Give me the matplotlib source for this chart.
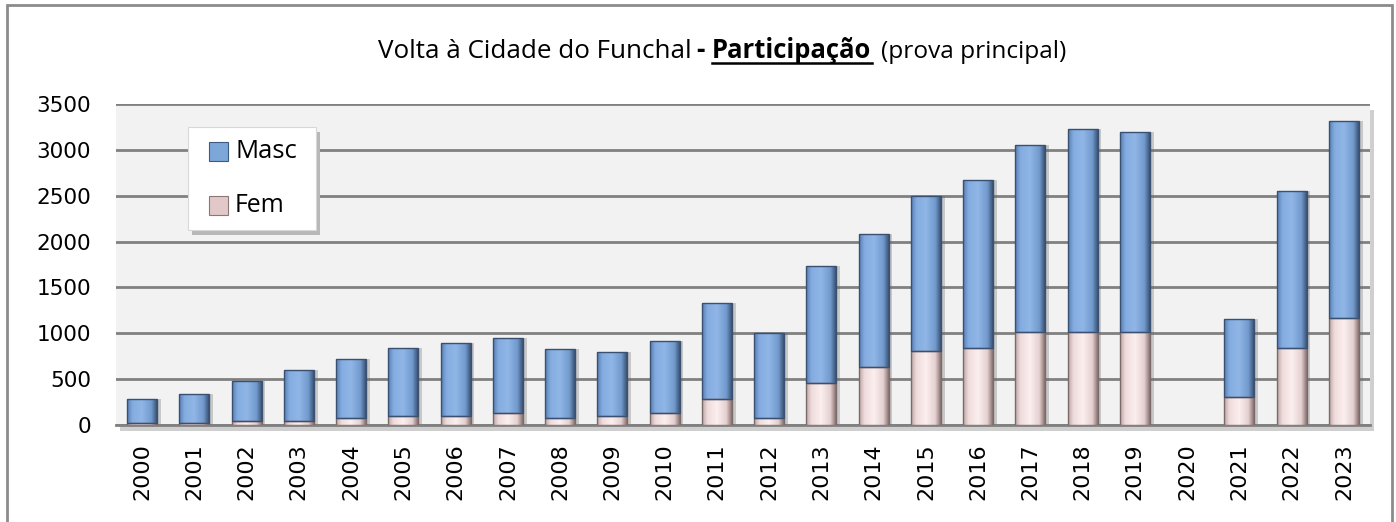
import matplotlib
matplotlib.use("Agg")
import matplotlib.pyplot as plt
from matplotlib.patches import Rectangle
from matplotlib.colors import LinearSegmentedColormap
import numpy as np

years = [str(y) for y in range(2000, 2024)]
fem = [25, 25, 40, 45, 73, 102, 102, 128, 73, 102, 134, 280, 73, 455, 630, 811, 835, 1019, 1015, 1015, 0, 309, 837, 1165]
total = [280, 338, 484, 600, 717, 837, 892, 953, 830, 800, 920, 1328, 1008, 1736, 2085, 2492, 2675, 3050, 3228, 3199, 0, 1154, 2555, 3311]
masc = [t - f for t, f in zip(total, fem)]

FONT = "Open Sans"
W, H = 1396, 522
fig = plt.figure(figsize=(W / 100, H / 100), dpi=100)
fig.patch.set_facecolor("white")
r = fig.canvas.get_renderer()


def fitted_text(xpx, ypx, s, target_w, **kw):
    t = fig.text(xpx / W, (H - ypx) / H, s, fontsize=10, **kw)
    w = t.get_window_extent(r).width
    t.set_fontsize(10 * target_w / w)
    return t


# outer frame
fig.patches.append(Rectangle((7 / W, -0.05), (W - 11) / W, 1.05 - 5 / H,
                             transform=fig.transFigure, fill=False,
                             edgecolor="#8c8c8c", linewidth=2, zorder=0))

L, R, T, B = 116, 1370, 104, 425
ax = fig.add_axes([L / W, (H - B) / H, (R - L) / W, (B - T) / H])

# plot area shadow
fig.patches.append(Rectangle(((L + 4) / W, (H - B - 6) / H), (R - L) / W, (B - T) / H,
                             transform=fig.transFigure, facecolor="#cfcfcf",
                             edgecolor="none", zorder=0))
ax.set_facecolor("#f2f2f2")
ax.set_zorder(1)

x = np.arange(len(years))
bw = 0.574

blue_cmap = LinearSegmentedColormap.from_list(
    "b", [(0, "#5a80b6"), (0.18, "#84ace0"), (0.5, "#8fb6e6"), (0.82, "#739acd"), (1, "#3a5478")])
pink_cmap = LinearSegmentedColormap.from_list(
    "p", [(0, "#bea6a6"), (0.18, "#efdcdc"), (0.5, "#fcefef"), (0.82, "#e4d0d0"), (1, "#8a7272")])
grad = np.linspace(0, 1, 64).reshape(1, -1)

shadow = ax.bar(x + 0.07, total, bw, color="#6a6a6a", alpha=0.3, zorder=2)
fb = ax.bar(x, fem, bw, color="none", edgecolor="#7a6a6a", linewidth=1.0, zorder=4)
mb = ax.bar(x, masc, bw, bottom=fem, color="none", edgecolor="#3a5070", linewidth=1.0, zorder=4)
for cont, cmap in [(fb, pink_cmap), (mb, blue_cmap)]:
    for p in cont.patches:
        if p.get_height() <= 0:
            p.set_visible(False)
            continue
        x0, y0 = p.get_x(), p.get_y()
        im = ax.imshow(grad, extent=[x0, x0 + p.get_width(), y0, y0 + p.get_height()],
                       aspect="auto", cmap=cmap, interpolation="bilinear", zorder=3)
        im.set_clip_path(p)
for p in shadow.patches:
    if p.get_height() <= 0:
        p.set_visible(False)

ax.set_xlim(-0.5, len(years) - 0.5)
ax.set_ylim(0, 3500)
ax.set_aspect("auto")
ax.set_yticks(np.arange(0, 3501, 500))
ax.yaxis.grid(True, color="#808080", linewidth=2, zorder=1)
ax.set_axisbelow(True)
for s in ax.spines.values():
    s.set_visible(False)
ax.spines["bottom"].set_visible(True)
ax.spines["bottom"].set_color("#808080")
ax.spines["bottom"].set_linewidth(2)
ax.set_xticks(x)
ax.set_xticklabels(years, rotation=90, fontsize=16, family="DejaVu Sans")
ax.set_yticklabels([str(v) for v in range(0, 3501, 500)], fontsize=15.5, family="DejaVu Sans")
ax.tick_params(axis="both", length=0)
ax.tick_params(axis="x", pad=13)
ax.tick_params(axis="y", pad=18)

# legend
fig.patches.append(Rectangle((192 / W, (H - 235) / H), 128 / W, 103 / H,
                             transform=fig.transFigure, facecolor="#b8b8b8",
                             edgecolor="none", zorder=5))
fig.patches.append(Rectangle((188 / W, (H - 230) / H), 128 / W, 103 / H,
                             transform=fig.transFigure, facecolor="white",
                             edgecolor="#d8d8d8", linewidth=0.8, zorder=6))
for yy, col, ec, lab, tw in [(152, "#7da6d9", "#3d5a80", "Masc", 62), (206, "#e2c8c8", "#8a7777", "Fem", 50)]:
    fig.patches.append(Rectangle((209 / W, (H - yy - 9) / H), 19 / W, 19 / H,
                                 transform=fig.transFigure, facecolor=col,
                                 edgecolor=ec, linewidth=0.8, zorder=7))
    t = fitted_text(235, yy, lab, tw, family=FONT, va="center", ha="left")
    t.set_zorder(8)

# title
base = 58
t1 = fitted_text(378, base, "Volta à Cidade do Funchal", 313, family=FONT, va="baseline")
t1b = fig.text(696 / W, (H - base) / H, "-", fontsize=t1.get_fontsize(), family=FONT,
               fontweight="bold", va="baseline")
t2 = fitted_text(712, base, "Participação", 160, family=FONT, fontweight="bold", va="baseline")
t3 = fitted_text(881, base, "(prova principal)", 184, family=FONT, va="baseline")
ul_y = (H - 63) / H
fig.add_artist(plt.Line2D([712 / W, 872 / W], [ul_y, ul_y],
                          transform=fig.transFigure, color="black", linewidth=1.8))

fig.savefig("out.png", dpi=100)
